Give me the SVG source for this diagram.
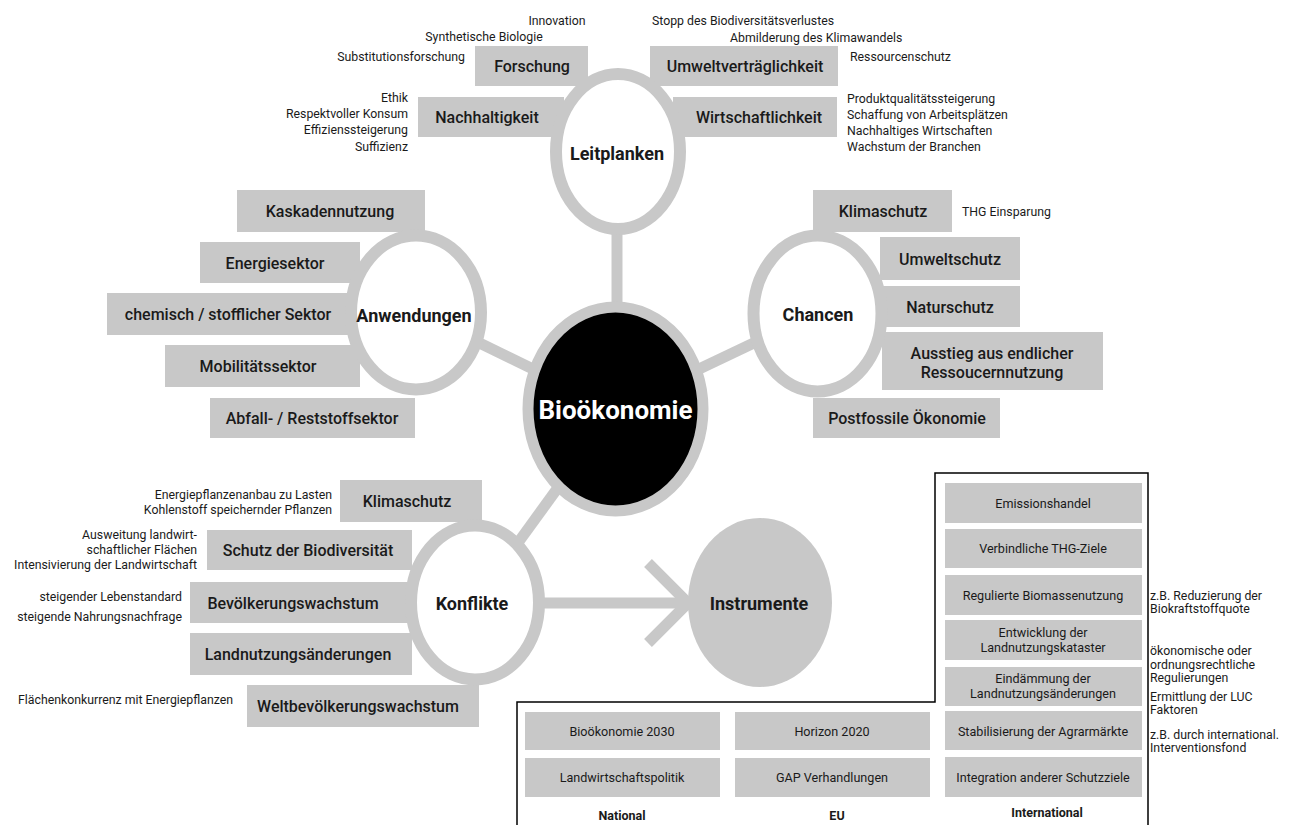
<svg xmlns="http://www.w3.org/2000/svg" width="1290" height="825" viewBox="0 0 1290 825">
<style>
.box{fill:#c8c8c8}
.ring{fill:#fff;stroke:#c8c8c8;stroke-width:12}
.conn{stroke:#c8c8c8;stroke-width:11;fill:none}
text{font-family:Roboto,"Liberation Sans",sans-serif;fill:#1a1a1a;dominant-baseline:central}
.lbl{font-size:16px;font-weight:500;text-anchor:middle}
.hub{font-size:18px;font-weight:700;text-anchor:middle}
.note{font-size:12.3px}
.r{text-anchor:end}
.sm{font-size:12.6px;text-anchor:middle}
.col{font-size:12.5px;font-weight:700;text-anchor:middle}
</style>
<rect width="1290" height="825" fill="#fff"/>
<g id="connectors">
<line class="conn" x1="617" y1="230" x2="617" y2="305"/>
<line class="conn" x1="416" y1="312" x2="615" y2="409"/>
<line class="conn" x1="817" y1="313" x2="615" y2="409"/>
<line class="conn" x1="475" y1="602" x2="615" y2="409"/>
<line class="conn" x1="540" y1="603" x2="688" y2="603"/>
<polyline class="conn" points="648,563 688,603 648,643"/>
</g>
<g id="leitplanken">
<rect class="box" x="475" y="46" width="113" height="40"/>
<text class="lbl" x="532" y="66">Forschung</text>
<rect class="box" x="418" y="97" width="146" height="40"/>
<text class="lbl" x="487" y="117">Nachhaltigkeit</text>
<rect class="box" x="650" y="46" width="188" height="40"/>
<text class="lbl" x="745" y="66">Umweltverträglichkeit</text>
<rect class="box" x="673" y="97" width="164" height="40"/>
<text class="lbl" x="759" y="117">Wirtschaftlichkeit</text>
<ellipse class="ring" cx="618" cy="151.5" rx="62" ry="77.5"/>
<text class="hub" x="617" y="153">Leitplanken</text>
<text class="note" x="557" y="21" text-anchor="middle">Innovation</text>
<text class="note" x="484" y="37" text-anchor="middle">Synthetische Biologie</text>
<text class="note r" x="465" y="57">Substitutionsforschung</text>
<text class="note r" x="408" y="98">Ethik</text>
<text class="note r" x="408" y="114">Respektvoller Konsum</text>
<text class="note r" x="408" y="130">Effizienssteigerung</text>
<text class="note r" x="408" y="147">Suffizienz</text>
<text class="note" x="652" y="21">Stopp des Biodiversitätsverlustes</text>
<text class="note" x="730" y="38">Abmilderung des Klimawandels</text>
<text class="note" x="850" y="57">Ressourcenschutz</text>
<text class="note" x="847" y="99">Produktqualitätssteigerung</text>
<text class="note" x="847" y="115">Schaffung von Arbeitsplätzen</text>
<text class="note" x="847" y="131">Nachhaltiges Wirtschaften</text>
<text class="note" x="847" y="147">Wachstum der Branchen</text>
</g>
<g id="anwendungen">
<rect class="box" x="237" y="190" width="188" height="42"/>
<text class="lbl" x="330" y="211">Kaskadennutzung</text>
<rect class="box" x="200" y="242" width="160" height="41"/>
<text class="lbl" x="275" y="263">Energiesektor</text>
<rect class="box" x="107" y="293" width="245" height="42"/>
<text class="lbl" x="228" y="314">chemisch / stofflicher Sektor</text>
<rect class="box" x="165" y="345" width="195" height="42"/>
<text class="lbl" x="258" y="366">Mobilitätssektor</text>
<rect class="box" x="210" y="398" width="205" height="40"/>
<text class="lbl" x="312" y="418">Abfall- / Reststoffsektor</text>
<ellipse class="ring" cx="416" cy="312.5" rx="65" ry="77"/>
<text class="hub" x="414" y="315">Anwendungen</text>
</g>
<g id="chancen">
<rect class="box" x="813" y="190" width="139" height="42"/>
<text class="lbl" x="883" y="211">Klimaschutz</text>
<text class="note" x="962" y="212">THG Einsparung</text>
<rect class="box" x="880" y="237" width="140" height="43"/>
<text class="lbl" x="950" y="259">Umweltschutz</text>
<rect class="box" x="878" y="286" width="142" height="41"/>
<text class="lbl" x="950" y="307">Naturschutz</text>
<rect class="box" x="882" y="332" width="221" height="58"/>
<text class="lbl" x="992" y="353">Ausstieg aus endlicher</text>
<text class="lbl" x="992" y="372">Ressoucernnutzung</text>
<rect class="box" x="813" y="398" width="187" height="40"/>
<text class="lbl" x="907" y="418">Postfossile Ökonomie</text>
<ellipse class="ring" cx="817.5" cy="313.5" rx="64" ry="78"/>
<text class="hub" x="818" y="314">Chancen</text>
</g>
<g id="konflikte">
<rect class="box" x="340" y="480" width="142" height="42"/>
<text class="lbl" x="407" y="501">Klimaschutz</text>
<rect class="box" x="207" y="530" width="205" height="40"/>
<text class="lbl" x="308" y="550">Schutz der Biodiversität</text>
<rect class="box" x="190" y="582" width="222" height="41"/>
<text class="lbl" x="293" y="603">Bevölkerungswachstum</text>
<rect class="box" x="190" y="633" width="222" height="42"/>
<text class="lbl" x="298" y="654">Landnutzungsänderungen</text>
<rect class="box" x="247" y="685" width="232" height="42"/>
<text class="lbl" x="358" y="706">Weltbevölkerungswachstum</text>
<ellipse class="ring" cx="475" cy="602.5" rx="64" ry="77"/>
<text class="hub" x="472" y="603">Konflikte</text>
<text class="note r" x="332" y="495">Energiepflanzenanbau zu Lasten</text>
<text class="note r" x="332" y="510">Kohlenstoff speichernder Pflanzen</text>
<text class="note r" x="197" y="535">Ausweitung landwirt-</text>
<text class="note r" x="197" y="550">schaftlicher Flächen</text>
<text class="note r" x="197" y="565">Intensivierung der Landwirtschaft</text>
<text class="note r" x="182" y="597">steigender Lebenstandard</text>
<text class="note r" x="182" y="617">steigende Nahrungsnachfrage</text>
<text class="note" x="18" y="700">Flächenkonkurrenz mit Energiepflanzen</text>
</g>
<g id="biooekonomie">
<ellipse cx="615.5" cy="409" rx="87.5" ry="102" fill="#000" stroke="#c8c8c8" stroke-width="11"/>
<text x="615.5" y="410" font-size="26" font-weight="700" text-anchor="middle" style="fill:#fff">Bioökonomie</text>
</g>
<g id="instrumente">
<ellipse cx="760" cy="602.5" rx="72" ry="84.5" fill="#c8c8c8"/>
<text class="hub" x="759" y="603">Instrumente</text>
</g>
<g id="instrumente-liste">
<path d="M517,825 V702 H935 V473 H1148 V825" fill="none" stroke="#000" stroke-width="1.5"/>
<rect class="box" x="525" y="712" width="195" height="38"/>
<text class="sm" x="622" y="731">Bioökonomie 2030</text>
<rect class="box" x="525" y="758" width="195" height="39"/>
<text class="sm" x="622" y="777">Landwirtschaftspolitik</text>
<rect class="box" x="735" y="712" width="195" height="38"/>
<text class="sm" x="832" y="731">Horizon 2020</text>
<rect class="box" x="735" y="758" width="195" height="39"/>
<text class="sm" x="832" y="777">GAP Verhandlungen</text>
<text class="col" x="622" y="815">National</text>
<text class="col" x="837" y="815">EU</text>
<rect class="box" x="945" y="483" width="197" height="40"/>
<text class="sm" x="1043" y="503">Emissionshandel</text>
<rect class="box" x="945" y="529" width="197" height="39"/>
<text class="sm" x="1043" y="548">Verbindliche THG-Ziele</text>
<rect class="box" x="945" y="575" width="197" height="40"/>
<text class="sm" x="1043" y="595">Regulierte Biomassenutzung</text>
<rect class="box" x="945" y="620" width="197" height="40"/>
<text class="sm" x="1043" y="632">Entwicklung der</text>
<text class="sm" x="1043" y="647">Landnutzungskataster</text>
<rect class="box" x="945" y="667" width="197" height="39"/>
<text class="sm" x="1043" y="678">Eindämmung der</text>
<text class="sm" x="1043" y="693">Landnutzungsänderungen</text>
<rect class="box" x="945" y="711" width="197" height="39"/>
<text class="sm" x="1043" y="731">Stabilisierung der Agrarmärkte</text>
<rect class="box" x="945" y="757" width="197" height="40"/>
<text class="sm" x="1043" y="777">Integration anderer Schutzziele</text>
<text class="col" x="1047" y="812">International</text>
<text class="note" x="1150" y="596">z.B. Reduzierung der</text>
<text class="note" x="1150" y="609">Biokraftstoffquote</text>
<text class="note" x="1150" y="651">ökonomische oder</text>
<text class="note" x="1150" y="665">ordnungsrechtliche</text>
<text class="note" x="1150" y="678">Regulierungen</text>
<text class="note" x="1150" y="697">Ermittlung der LUC</text>
<text class="note" x="1150" y="710">Faktoren</text>
<text class="note" x="1150" y="735">z.B. durch international.</text>
<text class="note" x="1150" y="748">Interventionsfond</text>
</g>
</svg>
